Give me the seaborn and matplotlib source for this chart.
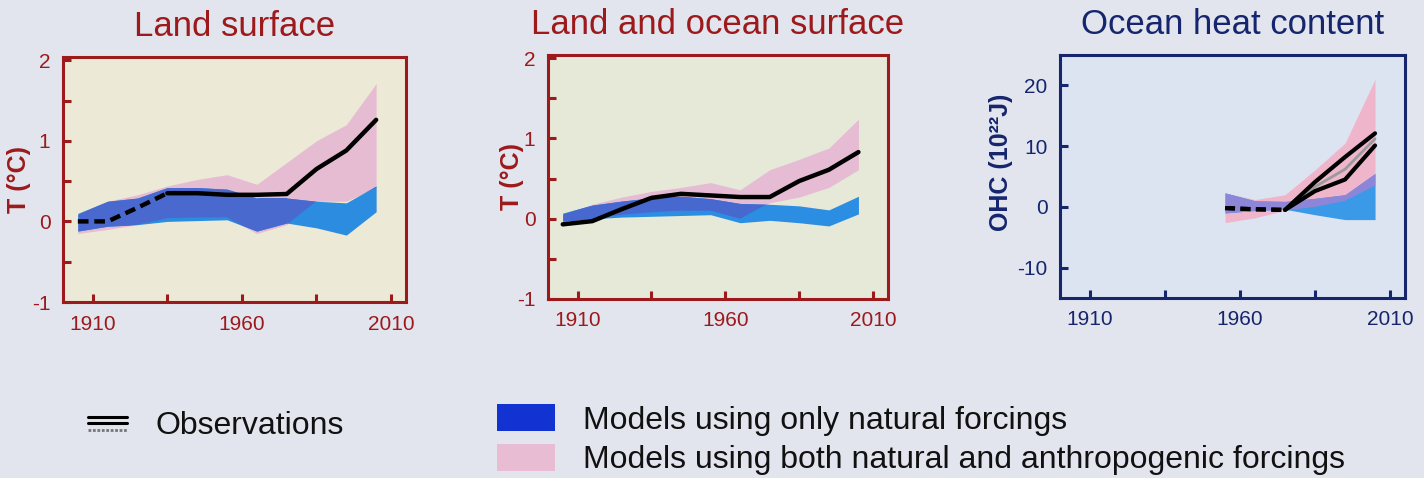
import numpy as np
import pandas as pd
import matplotlib
matplotlib.use("Agg")
import matplotlib.pyplot as plt
import seaborn as sns
from matplotlib.legend_handler import HandlerBase
from matplotlib.lines import Line2D
from matplotlib.patches import Patch

# ---------------- data ----------------
DEC_YEARS = [1905, 1915, 1925, 1935, 1945, 1955, 1965, 1975, 1985, 1995, 2005]

# Land surface
LAND_OBS = [0.0, 0.0, 0.17, 0.35, 0.35, 0.33, 0.33, 0.34, 0.65, 0.88, 1.26]
LAND_OBS_SPARSE_END = 1935
LAND_NAT_LO = [-0.12, -0.06, -0.04, 0.0, 0.01, 0.02, -0.12, -0.02, -0.08, -0.17, 0.12]
LAND_NAT_HI = [0.10, 0.25, 0.29, 0.42, 0.42, 0.40, 0.29, 0.29, 0.25, 0.23, 0.44]
LAND_ALL_LO = [-0.15, -0.10, -0.04, 0.04, 0.05, 0.05, -0.15, -0.04, 0.25, 0.25, 0.42]
LAND_ALL_HI = [0.08, 0.25, 0.33, 0.44, 0.52, 0.58, 0.46, 0.73, 1.00, 1.20, 1.71]

# Land and ocean surface
LO_OBS = [-0.07, -0.03, 0.12, 0.26, 0.31, 0.29, 0.27, 0.27, 0.47, 0.61, 0.83]
LO_NAT_LO = [-0.03, 0.0, 0.02, 0.03, 0.04, 0.05, -0.05, -0.02, -0.05, -0.09, 0.06]
LO_NAT_HI = [0.07, 0.17, 0.22, 0.26, 0.28, 0.25, 0.19, 0.18, 0.16, 0.11, 0.28]
LO_ALL_LO = [-0.05, 0.0, 0.05, 0.08, 0.10, 0.10, 0.0, 0.20, 0.27, 0.39, 0.61]
LO_ALL_HI = [0.05, 0.18, 0.27, 0.34, 0.39, 0.45, 0.36, 0.61, 0.74, 0.88, 1.24]

# Ocean heat content (10^22 J)
OHC_YEARS = [1955, 1965, 1975, 1985, 1995, 2005]
OHC_OBS_SPARSE_END = 1975
OHC_OBS_A = [-0.2, -0.4, -0.5, 4.1, 8.2, 12.1]
OHC_OBS_B = [-0.2, -0.4, -0.5, 2.6, 4.5, 10.1]
OHC_OBS_C = [np.nan, np.nan, -0.5, 3.3, 6.2, 11.2]
OHC_NAT_LO = [-1.0, -0.6, -0.4, -1.3, -2.1, -2.1]
OHC_NAT_HI = [2.3, 1.0, 0.9, 1.4, 2.0, 5.5]
OHC_ALL_LO = [-2.6, -1.8, -0.6, 0.0, 1.0, 3.5]
OHC_ALL_HI = [2.3, 1.2, 2.0, 6.1, 10.5, 21.0]

X_TICKS = [1910, 1935, 1960, 1985, 2010]
X_TICKLABELS = ["1910", "", "1960", "", "2010"]
T_TICKS = [-1, -0.5, 0, 0.5, 1, 1.5, 2]
T_TICKLABELS = ["-1", "", "0", "", "1", "", "2"]
OHC_TICKS = [-10, 0, 10, 20]
OHC_TICKLABELS = ["-10", "0", "10", "20"]

TITLES = ["Land surface", "Land and ocean surface", "Ocean heat content"]
YLABELS = ["T (°C)", "T (°C)", "OHC (10²²J)"]
LEGEND_OBS = "Observations"
LEGEND_NAT = "Models using only natural forcings"
LEGEND_ALL = "Models using both natural and anthropogenic forcings"

# ---------------- style ----------------
sns.set_theme(style="ticks")
plt.rcParams["font.family"] = ["Liberation Sans", "DejaVu Sans"]

FIG_BG = "#e2e5ed"
RED = "#9c1a1c"
NAVY = "#15256e"
TEXT = "#111111"

fig = plt.figure(figsize=(14.24, 4.78), dpi=100, facecolor=FIG_BG)

ax1 = fig.add_axes([0.0442, 0.3682, 0.2409, 0.5126])
ax2 = fig.add_axes([0.3848, 0.3745, 0.2388, 0.5105])
ax3 = fig.add_axes([0.7444, 0.3766, 0.2423, 0.5084])


def bands(ax, years, all_lo, all_hi, nat_lo, nat_hi, pink, cyan, overlap):
    pk = ax.fill_between(years, all_lo, all_hi, color=pink, lw=0, zorder=1)
    ax.fill_between(years, nat_lo, nat_hi, color=cyan, lw=0, zorder=2)
    ov = ax.fill_between(years, nat_lo, nat_hi, color=overlap, lw=0, zorder=3)
    ov.set_clip_path(pk.get_paths()[0], ax.transData)


def obs_line(ax, years, values, sparse_end=None, color="black", lw=3.2):
    df = pd.DataFrame({"year": years, "value": values}).dropna()
    if sparse_end is None:
        sns.lineplot(data=df, x="year", y="value", ax=ax, color=color, lw=lw,
                     estimator=None, sort=False, zorder=5)
        return
    sparse = df[df["year"] <= sparse_end]
    full = df[df["year"] >= sparse_end]
    sns.lineplot(data=sparse, x="year", y="value", ax=ax, color=color, lw=lw,
                 estimator=None, sort=False, zorder=5)
    ax.lines[-1].set_linestyle((0, (2.4, 1.3)))
    sns.lineplot(data=full, x="year", y="value", ax=ax, color=color, lw=lw,
                 estimator=None, sort=False, zorder=5)


def style_axes(ax, color, face, yticks, yticklabels, ylim, ylabel, ylabel_x, ylabel_y, title):
    ax.set_facecolor(face)
    ax.set_xlim(1900, 2015)
    ax.set_ylim(*ylim)
    ax.set_xticks(X_TICKS)
    ax.set_xticklabels(X_TICKLABELS)
    ax.set_yticks(yticks)
    ax.set_yticklabels(yticklabels)
    ax.tick_params(axis="both", direction="in", length=6, width=2.2, color=color,
                   labelcolor=color, labelsize=15, pad=9)
    for sp in ax.spines.values():
        sp.set_visible(True)
        sp.set_color(color)
        sp.set_linewidth(2.2)
    ax.set_xlabel("")
    ax.set_ylabel(ylabel, color=color, fontsize=18, fontweight="bold")
    ax.yaxis.set_label_coords(ylabel_x, ylabel_y)
    ax.set_title(title, color=color, fontsize=25, pad=15)


# Panel 1
bands(ax1, DEC_YEARS, LAND_ALL_LO, LAND_ALL_HI, LAND_NAT_LO, LAND_NAT_HI,
      "#e6bcd3", "#2b8ce0", "#4a69cf")
obs_line(ax1, DEC_YEARS, LAND_OBS, LAND_OBS_SPARSE_END)
style_axes(ax1, RED, "#ece9d6", T_TICKS, T_TICKLABELS, (-1, 2.04), YLABELS[0],
           -0.093, 0.5, TITLES[0])

# Panel 2
bands(ax2, DEC_YEARS, LO_ALL_LO, LO_ALL_HI, LO_NAT_LO, LO_NAT_HI,
      "#e5bcd3", "#2b8ee2", "#4768cf")
obs_line(ax2, DEC_YEARS, LO_OBS)
style_axes(ax2, RED, "#e6e8d8", T_TICKS, T_TICKLABELS, (-1, 2.04), YLABELS[1],
           -0.071, 0.5, TITLES[1])

# Panel 3
bands(ax3, OHC_YEARS, OHC_ALL_LO, OHC_ALL_HI, OHC_NAT_LO, OHC_NAT_HI,
      "#efb6cb", "#3b9ae8", "#8d86d8")
obs_line(ax3, OHC_YEARS, OHC_OBS_C, color="#9a9a9a", lw=2.0)
obs_line(ax3, OHC_YEARS, OHC_OBS_B, OHC_OBS_SPARSE_END, lw=3.0)
obs_line(ax3, OHC_YEARS, OHC_OBS_A, OHC_OBS_SPARSE_END, lw=3.0)
style_axes(ax3, NAVY, "#dde4f1", OHC_TICKS, OHC_TICKLABELS, (-15, 25),
           YLABELS[2], -0.136, 0.56, TITLES[2])


# ---------------- legend ----------------
class ObsHandler(HandlerBase):
    def create_artists(self, legend, orig_handle, xdescent, ydescent, width, height,
                       fontsize, trans):
        x0, x1 = -xdescent, -xdescent + width
        arts = []
        for frac, col, ls, lw in [(0.85, "black", "-", 2.2), (0.5, "black", "-", 2.2),
                                  (0.12, "#777777", (0, (1, 0.6)), 2.0)]:
            y = -ydescent + frac * height
            ln = Line2D([x0, x1], [y, y], color=col, lw=lw, linestyle=ls, transform=trans)
            arts.append(ln)
        return arts


obs_handle = Line2D([], [], color="black")
fig.legend(handles=[obs_handle], labels=[LEGEND_OBS], handler_map={Line2D: ObsHandler()},
           loc="center left", bbox_to_anchor=(0.0618, 0.108), frameon=False,
           fontsize=23, handlelength=1.22, handleheight=0.5, handletextpad=0.9,
           borderpad=0, borderaxespad=0, labelcolor=TEXT)

fig.legend(handles=[Patch(color="#1232d2", lw=0), Patch(color="#e8bcd2", lw=0)],
           labels=[LEGEND_NAT, LEGEND_ALL],
           loc="upper left", bbox_to_anchor=(0.349, 0.155), frameon=False,
           fontsize=23, handlelength=1.83, handleheight=0.95, handletextpad=0.86,
           labelspacing=0.25, borderpad=0, borderaxespad=0, labelcolor=TEXT)

fig.savefig("out.png", dpi=100, facecolor=FIG_BG)
